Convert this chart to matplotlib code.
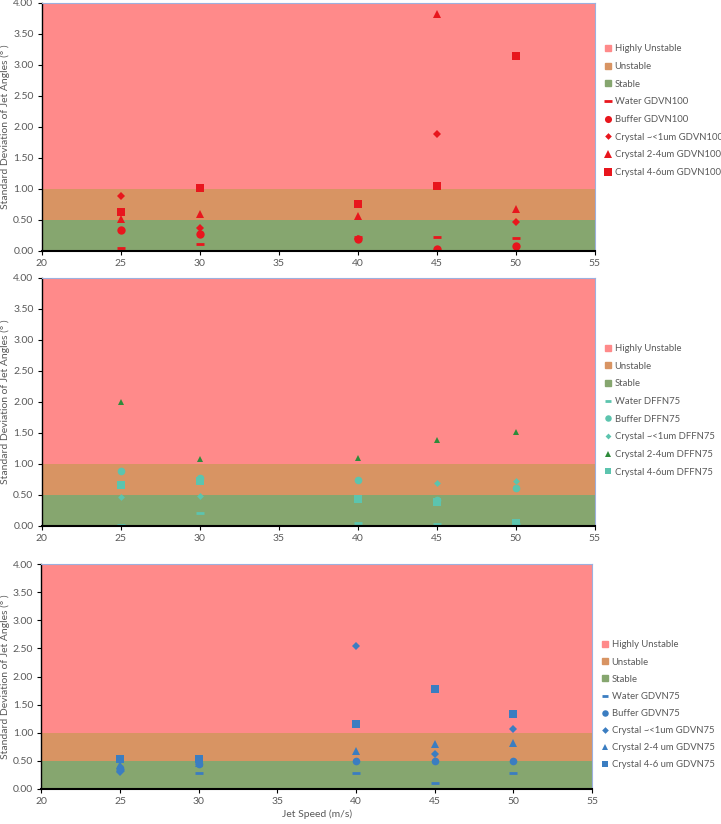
import numpy as np
import matplotlib
matplotlib.use("Agg")
import matplotlib.pyplot as plt
from matplotlib.lines import Line2D

plt.rcParams['font.family'] = ['Lato', 'DejaVu Sans']

# vitesses du jet (m/s)
speeds = [25, 30, 40, 45, 50]

# GDVN100
gdvn100_water = [0.05, 0.11, 0.22, 0.23, 0.21]
gdvn100_buffer = [0.34, 0.27, 0.19, 0.04, 0.08]
gdvn100_c1 = [0.88, 0.37, 0.20, 1.88, 0.47]
gdvn100_c24 = [0.52, 0.60, 0.57, 3.81, 0.67]
gdvn100_c46 = [0.62, 1.02, 0.75, 1.04, 3.14]

# DFFN75
dffn75_water = [0.01, 0.21, 0.04, 0.03, 0.03]
dffn75_buffer = [0.89, 0.77, 0.74, 0.42, 0.61]
dffn75_c1 = [0.46, 0.49, 0.74, 0.70, 0.73]
dffn75_c24 = [2.00, 1.08, 1.10, 1.38, 1.52]
dffn75_c46 = [0.66, 0.72, 0.43, 0.39, 0.05]

# GDVN75
gdvn75_water = [0.33, 0.29, 0.29, 0.11, 0.29]
gdvn75_buffer = [0.37, 0.44, 0.50, 0.50, 0.50]
gdvn75_c1 = [0.30, 0.44, 2.55, 0.63, 1.06]
gdvn75_c24 = [0.42, 0.47, 0.67, 0.80, 0.81]
gdvn75_c46 = [0.53, 0.53, 1.15, 1.77, 1.33]

band_names = ["Highly Unstable", "Unstable", "Stable"]
band_colors = ["#FF8A8A", "#D89463", "#86A66F"]
grey = "#595959"

fig = plt.figure(figsize=(7.21, 8.24), dpi=100)
positions = [[0.058, 0.6954, 0.767, 0.3014],
             [0.058, 0.3617, 0.767, 0.3010],
             [0.0575, 0.0425, 0.7635, 0.2730]]

panels = [
    ("GDVN100", [gdvn100_water, gdvn100_buffer, gdvn100_c1, gdvn100_c24, gdvn100_c46],
     ["#E8161D"] * 5, [6, 6, 5.5, 6, 6],
     ["Water GDVN100", "Buffer GDVN100", "Crystal ~<1um GDVN100", "Crystal 2-4um GDVN100", "Crystal 4-6um GDVN100"],
     (1.01, 0.848), 0.92),
    ("DFFN75", [dffn75_water, dffn75_buffer, dffn75_c1, dffn75_c24, dffn75_c46],
     ["#5CC4AE", "#5CC4AE", "#5CC4AE", "#2E8B3A", "#5CC4AE"], [5.5, 5.5, 5, 4.5, 5.5],
     ["Water DFFN75", "Buffer DFFN75", "Crystal ~<1um DFFN75", "Crystal 2-4um DFFN75", "Crystal 4-6um DFFN75"],
     (1.01, 0.749), 0.92),
    ("GDVN75", [gdvn75_water, gdvn75_buffer, gdvn75_c1, gdvn75_c24, gdvn75_c46],
     ["#3B7DC1"] * 5, [5.5, 5.5, 5.5, 5.5, 5.5],
     ["Water GDVN75", "Buffer GDVN75", "Crystal ~<1um GDVN75", "Crystal 2-4 um GDVN75", "Crystal 4-6 um GDVN75"],
     (1.01, 0.677), 0.86),
]
markers = ["_", "o", "D", "^", "s"]

for i, (name, series, colors, sizes, labels, leg_pos, spacing) in enumerate(panels):
    ax = fig.add_axes(positions[i])
    # zones de stabilite
    ax.axhspan(1, 4, color=band_colors[0], lw=0)
    ax.axhspan(0.5, 1, color=band_colors[1], lw=0)
    ax.axhspan(0, 0.5, color=band_colors[2], lw=0)
    handles = []
    for n in range(3):
        handles.append(Line2D([], [], ls="none", marker="s", ms=5, color=band_colors[n], label=band_names[n]))
    for k in range(5):
        ms = sizes[k]
        if markers[k] == "D":
            ms = sizes[k] - 1.5
        h, = ax.plot(speeds, series[k], ls="none", marker=markers[k], ms=ms,
                     mew=2 if markers[k] == "_" else 0, color=colors[k], label=labels[k])
        handles.append(h)
    ax.set_xlim(20, 55)
    ax.set_ylim(0, 4)
    ax.set_xticks(range(20, 56, 5))
    ax.set_yticks(np.arange(0, 4.01, 0.5))
    ax.set_yticklabels(["%.2f" % v for v in np.arange(0, 4.01, 0.5)])
    ax.tick_params(labelsize=7.5, length=3, width=0.8, pad=3)
    ax.tick_params(axis="x", colors="black", labelcolor=grey)
    ax.tick_params(axis="y", colors="black", labelcolor=grey)
    ax.spines["bottom"].set_color("black")
    ax.spines["bottom"].set_linewidth(1.5)
    ax.spines["left"].set_color("black")
    ax.spines["left"].set_linewidth(1.0)
    ax.spines["top"].set_color("#9DB0DE")
    ax.spines["right"].set_color("#9DB0DE")
    ax.set_ylabel("Standard Deviation of Jet Angles (° )", color=grey, fontsize=7.5)
    ax.yaxis.set_label_coords(-0.057, 0.5)
    leg = ax.legend(handles=handles, loc="upper left", bbox_to_anchor=leg_pos, frameon=False,
                    fontsize=6.8, labelcolor=grey, handlelength=0.8, handletextpad=0.3,
                    labelspacing=spacing, borderaxespad=0, markerscale=0.85)
    if i == 2:
        ax.set_xlabel("Jet Speed (m/s)", color=grey, fontsize=7.5, labelpad=2)

plt.savefig("out.png", dpi=100)
